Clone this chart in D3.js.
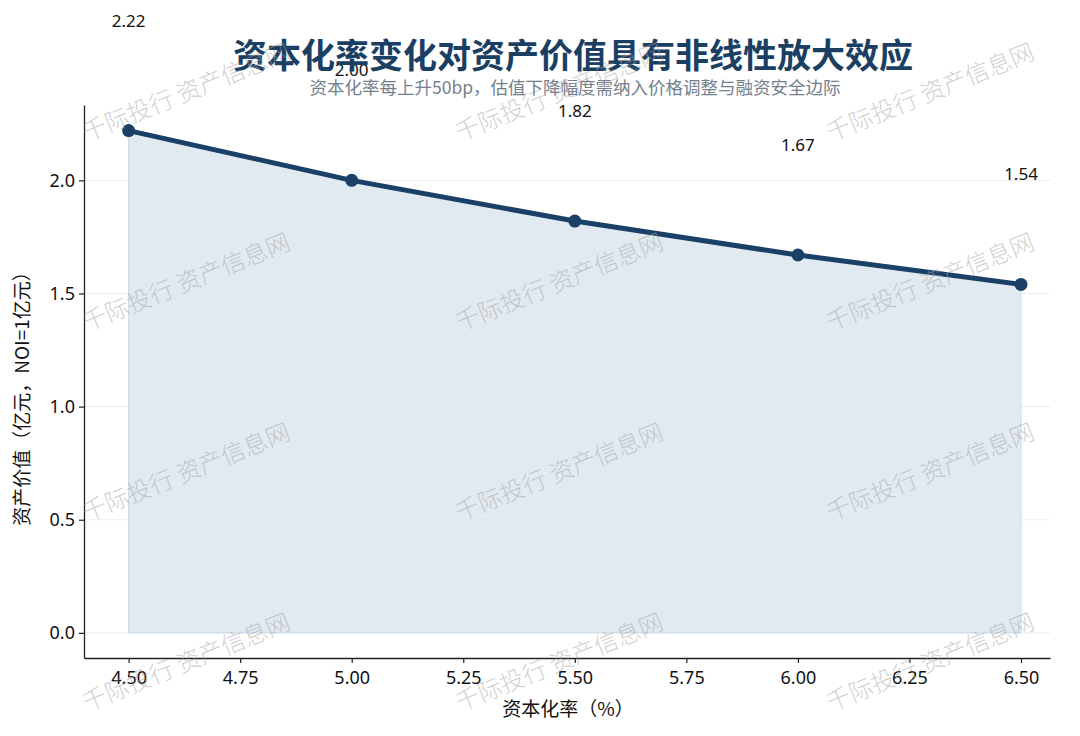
<!DOCTYPE html>
<html>
<head>
<meta charset="utf-8">
<script src="https://cdn.jsdelivr.net/npm/d3@7"></script>
<style>
  body { margin: 0; background: #fff; }
  svg { display: block; font-family: "Noto Sans CJK SC", "Noto Sans", sans-serif; }
</style>
</head>
<body>
<svg id="chart" width="1080" height="736"></svg>
<script>
// capitalisation rate (%) and asset value (亿元)
const capRates = [4.5, 5.0, 5.5, 6.0, 6.5];
const values = [2.22, 2.00, 1.82, 1.67, 1.54];
const valueLabels = ['2.22', '2.00', '1.82', '1.67', '1.54'];
const xTicks = [4.5, 4.75, 5.0, 5.25, 5.5, 5.75, 6.0, 6.25, 6.5];
const yTicks = [0, 0.5, 1.0, 1.5, 2.0];

const svg = d3.select('#chart');

const x = d3.scaleLinear().domain([4.4, 6.565]).range([84, 1050]);
const y = d3.scaleLinear().domain([-0.111, 2.333]).range([658, 105]);

// grid
svg.append('g')
    .selectAll('line')
    .data(yTicks)
    .join('line')
    .attr('x1', 84).attr('x2', 1050)
    .attr('y1', d => y(d)).attr('y2', d => y(d))
    .attr('stroke', '#ececec')
    .attr('stroke-width', 1);

// area under line
let points = capRates.map((c, i) => ({ c: c, v: values[i], label: valueLabels[i] }));

svg.append('path')
    .datum(points)
    .attr('d', d3.area().x(d => x(d.c)).y0(y(0)).y1(d => y(d.v)))
    .attr('fill', '#dfe8f0')
    .attr('fill-opacity', 0.9)
    .attr('stroke', '#c9d9e6')
    .attr('stroke-width', 1);

// line
svg.append('path')
    .datum(points)
    .attr('d', d3.line().x(d => x(d.c)).y(d => y(d.v)))
    .attr('fill', 'none')
    .attr('stroke', '#1b4068')
    .attr('stroke-width', 5)
    .attr('stroke-linejoin', 'round');

svg.append('g')
    .selectAll('circle')
    .data(points)
    .join('circle')
    .attr('cx', d => x(d.c))
    .attr('cy', d => y(d.v))
    .attr('r', 6.5)
    .attr('fill', '#1b4068');

// axes
let xAxis = svg.append('g')
    .attr('transform', 'translate(0,658)')
    .call(d3.axisBottom(x).tickValues(xTicks).tickFormat(d3.format('.2f')).tickSize(5).tickSizeOuter(0));

let yAxis = svg.append('g')
    .attr('transform', 'translate(84,0)')
    .call(d3.axisLeft(y).tickValues(yTicks).tickFormat(d3.format('.1f')).tickSize(5).tickSizeOuter(0));

[xAxis, yAxis].forEach(a => {
    a.select('.domain').attr('stroke', '#222').attr('stroke-width', 1.3);
    a.selectAll('.tick line').attr('stroke', '#222').attr('stroke-width', 1.2);
    a.selectAll('.tick text')
        .attr('fill', '#111')
        .style('font-size', '18px')
        .style('font-family', '"Noto Sans", sans-serif');
});
xAxis.selectAll('.tick text').attr('dy', '1.0em');
yAxis.selectAll('.tick text').attr('x', -9);

// axis titles
svg.append('text')
    .attr('x', 568).attr('y', 716)
    .attr('text-anchor', 'middle')
    .attr('fill', '#111')
    .style('font-size', '19px')
    .text('资本化率（%）');

svg.append('text')
    .attr('transform', 'translate(29,394) rotate(-90)')
    .attr('text-anchor', 'middle')
    .attr('fill', '#111')
    .style('font-size', '19px')
    .text('资产价值（亿元，NOI=1亿元）');

// value labels
svg.append('g')
    .selectAll('text')
    .data(points)
    .join('text')
    .attr('x', d => x(d.c))
    .attr('y', d => y(d.v) - 104)
    .attr('text-anchor', 'middle')
    .attr('fill', '#111')
    .style('font-size', '17px')
    .style('font-family', '"Noto Sans", sans-serif')
    .text(d => d.label);

// title
svg.append('text')
    .attr('x', 573).attr('y', 68)
    .attr('text-anchor', 'middle')
    .attr('fill', '#1b3f63')
    .style('font-size', '34px')
    .style('font-weight', 'bold')
    .text('资本化率变化对资产价值具有非线性放大效应');

svg.append('text')
    .attr('x', 575).attr('y', 94)
    .attr('text-anchor', 'middle')
    .attr('fill', '#74808b')
    .style('font-size', '17.5px')
    .text('资本化率每上升50bp，估值下降幅度需纳入价格调整与融资安全边际');

// watermark
const wmCols = [187, 560, 931];
const wmRows = [94, 284, 474, 664];
let wm = svg.append('g').attr('pointer-events', 'none');
wmRows.forEach(r => {
    wmCols.forEach(c => {
        wm.append('text')
            .attr('transform', 'translate(' + c + ',' + r + ') rotate(-22)')
            .attr('text-anchor', 'middle')
            .attr('dominant-baseline', 'middle')
            .attr('fill', '#a0a0a0')
            .attr('fill-opacity', 0.5)
            .style('font-size', '24px')
            .style('font-weight', '300')
            .text('千际投行 资产信息网');
    });
});
</script>
</body>
</html>
